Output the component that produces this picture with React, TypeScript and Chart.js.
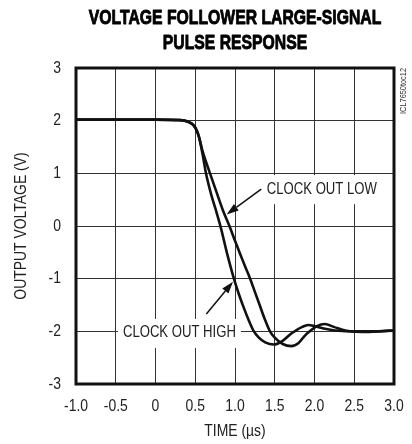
import React, { useEffect, useRef } from 'react';
import { Chart, registerables } from 'chart.js';

Chart.register(...registerables);

// ---------- data ----------
const TITLE_LINES = ['VOLTAGE FOLLOWER LARGE-SIGNAL', 'PULSE RESPONSE'];
const X_TITLE = 'TIME (\u00B5s)';
const Y_TITLE = 'OUTPUT VOLTAGE (V)';
const SIDE_TAG = 'ICL7650toc12';
const X_TICK_LABELS = ['-1.0', '-0.5', '0', '0.5', '1.0', '1.5', '2.0', '2.5', '3.0'];
const Y_TICK_LABELS = ['-3', '-2', '-1', '0', '1', '2', '3'];

// CLOCK OUT HIGH (faster edge)
const highTime = [-1.0, 0.0, 0.31, 0.41, 0.475, 0.52, 0.55, 0.59, 0.635, 0.7, 0.76, 0.82, 0.9, 0.99, 1.05, 1.11, 1.17, 1.23, 1.3, 1.38, 1.49, 1.6, 1.7, 1.76, 1.84, 1.92, 2.0, 2.1, 2.2, 2.3, 2.5, 2.7, 3.0];
const highVolt = [2.02, 2.02, 2.01, 1.98, 1.92, 1.81, 1.67, 1.38, 1.0, 0.6, 0.3, -0.02, -0.52, -1.02, -1.3, -1.55, -1.78, -1.98, -2.12, -2.21, -2.25, -2.18, -2.05, -1.99, -1.92, -1.88, -1.9, -1.94, -1.97, -1.99, -2.0, -2.0, -1.99];

// CLOCK OUT LOW (slower edge)
const lowTime = [-1.0, 0.0, 0.31, 0.41, 0.475, 0.52, 0.55, 0.59, 0.635, 0.69, 0.75, 0.8, 0.85, 0.93, 1.0, 1.07, 1.13, 1.19, 1.25, 1.31, 1.37, 1.44, 1.5, 1.6, 1.71, 1.8, 1.88, 1.94, 2.03, 2.13, 2.25, 2.35, 2.45, 2.6, 2.8, 3.0];
const lowVolt = [2.02, 2.02, 2.01, 1.98, 1.92, 1.81, 1.68, 1.43, 1.22, 0.98, 0.72, 0.5, 0.29, 0.0, -0.28, -0.55, -0.78, -1.0, -1.25, -1.5, -1.75, -2.0, -2.12, -2.24, -2.28, -2.22, -2.08, -2.0, -1.9, -1.86, -1.92, -1.97, -2.0, -2.01, -2.0, -1.98];

// annotations (data coordinates)
const NOTE_TEXT = ['CLOCK OUT LOW', 'CLOCK OUT HIGH'];
const NOTE_X = [1.4, -0.41];
const NOTE_Y = [0.7, -2.03];
const ARROW_FROM_X = [1.33, 0.64];
const ARROW_FROM_Y = [0.7, -1.67];
const ARROW_TO_X = [0.895, 0.975];
const ARROW_TO_Y = [0.22, -1.06];

// ---------- styles ----------
const SANS = "'Liberation Sans', Arial, 'Helvetica', sans-serif";
const INK = '#111';
const NARROW_SCALE = 0.82;
const TITLE_SCALE = 0.75;

const toPoints = (xs: number[], ys: number[]) => xs.map((x, i) => ({ x, y: ys[i] }));

// draw all text condensed horizontally (Helvetica Condensed look)
function condenseText(ctx: CanvasRenderingContext2D) {
  const anyCtx = ctx as any;
  if (anyCtx.__condensed) return;
  anyCtx.__condensed = true;
  const orig = ctx.fillText.bind(ctx);
  ctx.fillText = function (text: string, x: number, y: number, maxWidth?: number) {
    const bold = /bold|[6-9]00/.test(ctx.font);
    const sx = bold ? TITLE_SCALE : NARROW_SCALE;
    ctx.save();
    ctx.translate(x, y);
    ctx.scale(sx, 1);
    if (bold) {
      ctx.lineWidth = 0.9;
      ctx.strokeStyle = ctx.fillStyle;
      ctx.lineJoin = 'round';
      ctx.strokeText(text, 0, 0);
    }
    if (maxWidth === undefined) orig(text, 0, 0);
    else orig(text, 0, 0, maxWidth / sx);
    ctx.restore();
  } as any;
}

const annotate = {
  id: 'annotate',
  beforeDatasetsDraw(chart: any) {
    const { ctx } = chart;
    const x = chart.scales.x;
    const y = chart.scales.y;
    ctx.save();
    ctx.font = `16px ${SANS}`;
    ctx.fillStyle = '#fff';
    NOTE_TEXT.forEach((t, i) => {
      const w = ctx.measureText(t).width * NARROW_SCALE;
      const px = x.getPixelForValue(NOTE_X[i]);
      const py = y.getPixelForValue(NOTE_Y[i]);
      ctx.fillRect(px - 5, py - 14, w + 10, 29);
    });
    ctx.restore();
  },
  afterDatasetsDraw(chart: any) {
    const { ctx, chartArea } = chart;
    const x = chart.scales.x;
    const y = chart.scales.y;
    ctx.save();
    // frame
    ctx.strokeStyle = INK;
    ctx.lineWidth = 3;
    ctx.strokeRect(chartArea.left, chartArea.top, chartArea.right - chartArea.left, chartArea.bottom - chartArea.top);
    // notes
    ctx.font = `16px ${SANS}`;
    ctx.fillStyle = '#222';
    ctx.textAlign = 'left';
    ctx.textBaseline = 'middle';
    NOTE_TEXT.forEach((t, i) => {
      ctx.fillText(t, x.getPixelForValue(NOTE_X[i]), y.getPixelForValue(NOTE_Y[i]));
    });
    // arrows
    ctx.strokeStyle = INK;
    ctx.fillStyle = INK;
    ctx.lineWidth = 1.5;
    ARROW_FROM_X.forEach((_, i) => {
      const x0 = x.getPixelForValue(ARROW_FROM_X[i]);
      const y0 = y.getPixelForValue(ARROW_FROM_Y[i]);
      const x1 = x.getPixelForValue(ARROW_TO_X[i]);
      const y1 = y.getPixelForValue(ARROW_TO_Y[i]);
      const ang = Math.atan2(y1 - y0, x1 - x0);
      const hl = 12;
      const hw = 4;
      const bx = x1 - hl * Math.cos(ang);
      const by = y1 - hl * Math.sin(ang);
      ctx.beginPath();
      ctx.moveTo(x0, y0);
      ctx.lineTo(bx, by);
      ctx.stroke();
      ctx.beginPath();
      ctx.moveTo(x1, y1);
      ctx.lineTo(bx + hw * Math.sin(ang), by - hw * Math.cos(ang));
      ctx.lineTo(bx - hw * Math.sin(ang), by + hw * Math.cos(ang));
      ctx.closePath();
      ctx.fill();
    });
    // title, centred over the plot
    ctx.font = `bold 21px ${SANS}`;
    ctx.fillStyle = '#000';
    ctx.textAlign = 'center';
    ctx.textBaseline = 'middle';
    const cx = (chartArea.left + chartArea.right) / 2;
    TITLE_LINES.forEach((line, i) => {
      ctx.fillText(line, cx, 18 + i * 25);
    });
    // side tag
    ctx.translate(chartArea.right + 10, chartArea.top);
    ctx.rotate(-Math.PI / 2);
    ctx.font = `9px ${SANS}`;
    ctx.fillStyle = '#333';
    ctx.textAlign = 'right';
    ctx.textBaseline = 'middle';
    ctx.fillText(SIDE_TAG, 0, 0);
    ctx.restore();
  },
};

export default function App() {
  const ref = useRef<HTMLCanvasElement | null>(null);

  useEffect(() => {
    const canvas = ref.current;
    if (!canvas) return;
    const ctx = canvas.getContext('2d');
    if (!ctx) return;
    condenseText(ctx);
    const chart = new Chart(ctx, {
      type: 'line',
      data: {
        datasets: [
          {
            label: 'CLOCK OUT HIGH',
            data: toPoints(highTime, highVolt),
            borderColor: INK,
            borderWidth: 2.6,
            pointRadius: 0,
            cubicInterpolationMode: 'monotone',
            fill: false,
          },
          {
            label: 'CLOCK OUT LOW',
            data: toPoints(lowTime, lowVolt),
            borderColor: INK,
            borderWidth: 2.6,
            pointRadius: 0,
            cubicInterpolationMode: 'monotone',
            fill: false,
          },
        ],
      },
      options: {
        responsive: false,
        animation: false,
        layout: { padding: { left: 0, right: 18, top: 68, bottom: 0 } },
        plugins: {
          legend: { display: false },
          tooltip: { enabled: false },
          title: { display: false },
        },
        scales: {
          x: {
            type: 'linear',
            min: -1,
            max: 3,
            afterFit: (s: any) => { s.height = 60; s.paddingLeft = 0; s.paddingRight = 0; },
            border: { display: false },
            grid: { color: '#333', lineWidth: 1, drawTicks: false },
            ticks: {
              stepSize: 0.5,
              padding: 12,
              color: '#222',
              font: { family: SANS, size: 17 },
              callback: (_v: any, i: number) => X_TICK_LABELS[i],
            },
            title: {
              display: true,
              text: X_TITLE,
              color: '#222',
              font: { family: SANS, size: 17 },
              padding: { top: 0, bottom: 2 },
            },
          },
          y: {
            type: 'linear',
            min: -3,
            max: 3,
            afterFit: (s: any) => { s.width = 76; s.paddingTop = 0; s.paddingBottom = 0; },
            border: { display: false },
            grid: { color: '#333', lineWidth: 1, drawTicks: false },
            ticks: {
              stepSize: 1,
              padding: 15,
              color: '#222',
              font: { family: SANS, size: 17 },
              callback: (_v: any, i: number) => Y_TICK_LABELS[i],
            },
            title: {
              display: true,
              text: Y_TITLE,
              color: '#222',
              font: { family: SANS, size: 17 },
              padding: { top: 11, bottom: 0 },
            },
          },
        },
      },
      plugins: [annotate],
    } as any);
    return () => chart.destroy();
  }, []);

  return (
    <div style={{ position: 'absolute', left: 0, top: 0, width: 412, height: 444, background: '#fff' }}>
      <canvas ref={ref} width={412} height={444} style={{ display: 'block' }} />
    </div>
  );
}
